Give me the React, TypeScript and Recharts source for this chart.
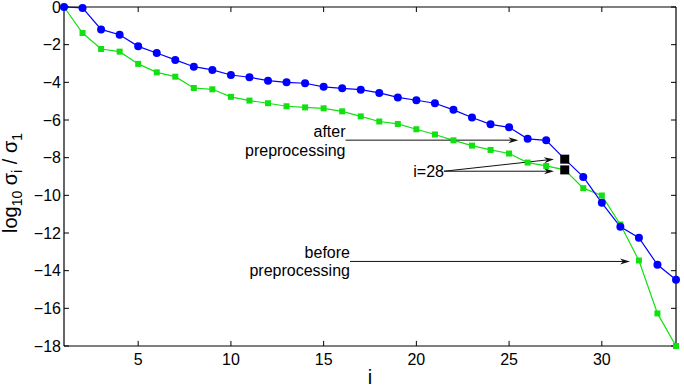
import { LineChart, Line, XAxis, YAxis, ReferenceLine } from "recharts";

// singular value index
const idx = [1, 2, 3, 4, 5, 6, 7, 8, 9, 10, 11, 12, 13, 14, 15, 16, 17, 18, 19, 20, 21, 22, 23, 24, 25, 26, 27, 28, 29, 30, 31, 32, 33, 34];

// log10(sigma_i / sigma_1)
const afterPre = [0, -0.05, -1.19, -1.47, -2.09, -2.44, -2.81, -3.17, -3.34, -3.61, -3.73, -3.91, -4.0, -4.05, -4.24, -4.32, -4.39, -4.56, -4.8, -4.95, -5.11, -5.46, -5.87, -6.23, -6.39, -7.0, -7.08, -8.08, -9.02, -10.4, -11.67, -12.25, -13.69, -14.48];
const beforePre = [0, -1.38, -2.23, -2.37, -3.02, -3.47, -3.7, -4.3, -4.37, -4.77, -4.97, -5.11, -5.27, -5.33, -5.38, -5.54, -5.81, -6.08, -6.21, -6.49, -6.77, -7.08, -7.36, -7.59, -7.78, -8.26, -8.44, -8.65, -9.62, -10.01, -11.55, -13.46, -16.27, -18];

const xTicks = [5, 10, 15, 20, 25, 30];
const yTicks = [0, -2, -4, -6, -8, -10, -12, -14, -16, -18];
const highlightI = 28;

const data = idx.map((i, k) => ({ i, after: afterPre[k], before: beforePre[k] }));

const FONT = "Liberation Sans, Arial, Helvetica, sans-serif";
const X_MIN = 1;
const X_MAX = 34;
const Y_MIN = -18;
const Y_MAX = 0;
const TX = 0.27; // inward tick length, x units
const TY = 0.27; // inward tick length, y units

const fmt = (v: number) => (v < 0 ? `\u2212${Math.abs(v)}` : `${v}`);

function BlueDot(props: any) {
  const { cx, cy, index } = props;
  if (cx == null || cy == null) return <g key={`a-${index}`} />;
  if (idx[index] === highlightI) {
    return <rect key={`a-${index}`} x={cx - 4.5} y={cy - 4.5} width={9} height={9} fill="#000" />;
  }
  return <circle key={`a-${index}`} cx={cx} cy={cy} r={4} fill="#0000ff" stroke="none" />;
}

function GreenDot(props: any) {
  const { cx, cy, index } = props;
  if (cx == null || cy == null) return <g key={`b-${index}`} />;
  if (idx[index] === highlightI) {
    return <rect key={`b-${index}`} x={cx - 4.5} y={cy - 4.5} width={9} height={9} fill="#000" />;
  }
  return <rect key={`b-${index}`} x={cx - 3} y={cy - 3} width={6} height={6} fill="#11e011" />;
}

// plain black segment (frame edges, inward ticks)
const edge = (w: number) => (props: any) =>
  <line x1={props.x1} y1={props.y1} x2={props.x2} y2={props.y2} stroke="#000" strokeWidth={w} />;

// arrow with optional right-aligned text block at its tail
function arrowShape(lines: string[], offsets: number[]) {
  return (props: any) => {
    const { x1, y1, x2, y2 } = props;
    const ang = Math.atan2(y2 - y1, x2 - x1);
    const len = 10;
    const half = 3;
    const bx = x2 - len * Math.cos(ang);
    const by = y2 - len * Math.sin(ang);
    const nx = x2 - 0.7 * len * Math.cos(ang);
    const ny = y2 - 0.7 * len * Math.sin(ang);
    const px = -Math.sin(ang) * half;
    const py = Math.cos(ang) * half;
    return (
      <g>
        <line x1={x1} y1={y1} x2={nx} y2={ny} stroke="#111" strokeWidth={1} />
        <polygon
          points={`${x2},${y2} ${bx + px},${by + py} ${nx},${ny} ${bx - px},${by - py}`}
          fill="#111"
        />
        {lines.map((t, k) => (
          <text key={k} x={x1} y={y1 + offsets[k]} textAnchor="end" fontFamily={FONT} fontSize={16} fill="#000">
            {t}
          </text>
        ))}
      </g>
    );
  };
}

export default function App() {
  return (
    <div style={{ position: "absolute", left: 0, top: 0, background: "#fff" }}>
      <LineChart width={684} height={388} data={data} margin={{ top: 7, right: 8, bottom: 0, left: 0 }}>
        <XAxis
          dataKey="i"
          type="number"
          domain={[X_MIN, X_MAX]}
          ticks={xTicks}
          interval={0}
          height={42}
          tickLine={false}
          tickSize={0}
          tickMargin={8}
          axisLine={{ stroke: "#000", strokeWidth: 1.2 }}
          tick={{ fill: "#000", fontSize: 16, fontFamily: FONT }}
          label={{ value: "i", position: "insideBottom", offset: 4, fill: "#000", fontSize: 20, fontFamily: FONT }}
        />
        <YAxis
          type="number"
          domain={[Y_MIN, Y_MAX]}
          ticks={yTicks}
          interval={0}
          width={64}
          tickLine={false}
          tickSize={0}
          tickMargin={3}
          tickFormatter={fmt}
          axisLine={{ stroke: "#000", strokeWidth: 1.2 }}
          tick={{ fill: "#000", fontSize: 16, fontFamily: FONT }}
          label={{
            content: () => (
              <text transform="translate(17,183) rotate(-90)" textAnchor="middle" fontFamily={FONT} fontSize={20} fill="#000">
                log
                <tspan fontSize={14} dy={5}>10</tspan>
                <tspan dy={-5}> σ</tspan>
                <tspan fontSize={14} dy={5}>i</tspan>
                <tspan dy={-5}> / σ</tspan>
                <tspan fontSize={14} dy={5}>1</tspan>
              </text>
            ),
          }}
        />

        {/* box frame */}
        <ReferenceLine segment={[{ x: X_MIN, y: Y_MAX }, { x: X_MAX, y: Y_MAX }]} ifOverflow="visible" shape={edge(1.2)} />
        <ReferenceLine segment={[{ x: X_MAX, y: Y_MIN }, { x: X_MAX, y: Y_MAX }]} ifOverflow="visible" shape={edge(1.2)} />

        {/* inward ticks on all four sides */}
        {xTicks.map((t) => (
          <ReferenceLine key={`xb-${t}`} segment={[{ x: t, y: Y_MIN }, { x: t, y: Y_MIN + TY }]} ifOverflow="visible" shape={edge(1)} />
        ))}
        {xTicks.map((t) => (
          <ReferenceLine key={`xt-${t}`} segment={[{ x: t, y: Y_MAX }, { x: t, y: Y_MAX - TY }]} ifOverflow="visible" shape={edge(1)} />
        ))}
        {yTicks.map((t) => (
          <ReferenceLine key={`yl-${t}`} segment={[{ x: X_MIN, y: t }, { x: X_MIN + TX, y: t }]} ifOverflow="visible" shape={edge(1)} />
        ))}
        {yTicks.map((t) => (
          <ReferenceLine key={`yr-${t}`} segment={[{ x: X_MAX, y: t }, { x: X_MAX - TX, y: t }]} ifOverflow="visible" shape={edge(1)} />
        ))}

        <Line
          dataKey="before"
          stroke="#11e011"
          strokeWidth={1.2}
          dot={GreenDot}
          activeDot={false}
          isAnimationActive={false}
        />
        <Line
          dataKey="after"
          stroke="#0000ff"
          strokeWidth={1.2}
          dot={BlueDot}
          activeDot={false}
          isAnimationActive={false}
        />

        {/* annotations */}
        <ReferenceLine
          segment={[{ x: 16.18, y: -7.07 }, { x: 25.5, y: -7.07 }]}
          shape={arrowShape(["after", "preprocessing"], [-3, 16])}
        />
        <ReferenceLine
          segment={[{ x: 21.49, y: -8.72 }, { x: 27.42, y: -8.08 }]}
          shape={arrowShape(["i=28"], [6])}
        />
        <ReferenceLine
          segment={[{ x: 21.49, y: -8.72 }, { x: 27.42, y: -8.72 }]}
          shape={arrowShape([], [])}
        />
        <ReferenceLine
          segment={[{ x: 16.42, y: -13.51 }, { x: 31.52, y: -13.51 }]}
          shape={arrowShape(["before", "preprocessing"], [-3, 15])}
        />
      </LineChart>
    </div>
  );
}
